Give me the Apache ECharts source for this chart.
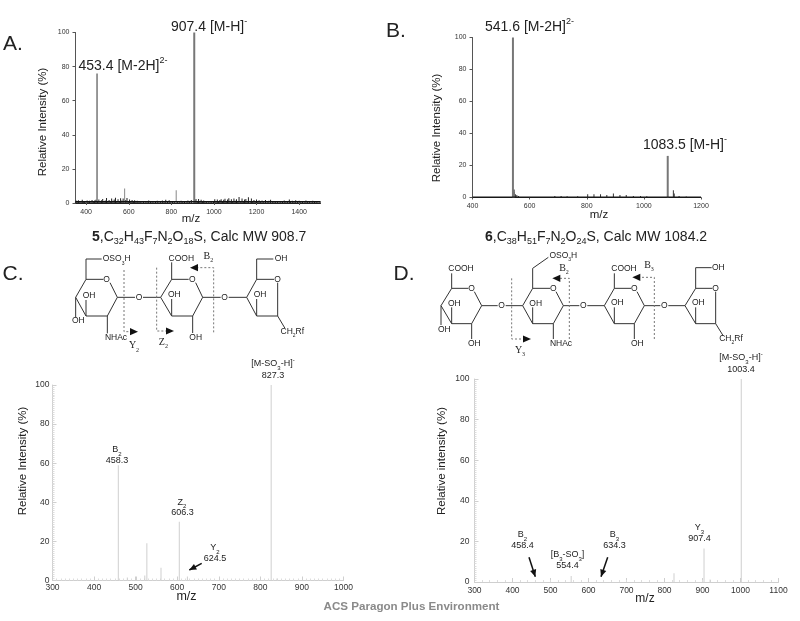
<!DOCTYPE html>
<html>
<head>
<meta charset="utf-8">
<style>html,body{margin:0;padding:0;background:#fff}#chart{width:800px;height:621px}</style>
<script src="https://cdn.jsdelivr.net/npm/echarts@6/dist/echarts.min.js"></script>
</head>
<body>
<div id="chart"></div>
<script>
// panel A
const ticksA = [400, 600, 800, 1000, 1200, 1400];
const strongPeaksA = [[907.4, 100]];
const thinPeaksA = [[453.4, 76]];
const midPeaksA = [[583, 8.5], [825, 7.5]];
const baselineA = [[350, 0.7], [1500, 0.7]];
const noiseA = [[350,0.6],[355,1.4],[360,0.7],[366,1.6],[372,0.5],[378,1.2],[384,1.9],[389,0.6],[395,1.1],[401,0.4],[407,1.5],[412,0.8],[418,1.3],[424,0.5],[430,1.7],[436,0.7],[442,1.4],[448,1.9],[456,1],[462,2],[468,0.9],[474,1.6],[480,2.4],[486,0.8],[492,1.5],[498,3],[504,1.1],[510,1.8],[516,0.9],[522,2.7],[528,1.3],[534,2],[540,3.1],[546,1],[552,2.2],[558,1.2],[564,2.8],[570,1.4],[576,2.6],[588,1.7],[594,3],[600,1.2],[606,2.1],[612,0.9],[618,1.8],[624,1.1],[630,1.6],[636,0.7],[642,1.3],[650,0.6],[656,1.1],[664,0.5],[672,0.9],[680,0.4],[688,1],[696,1.5],[704,0.6],[712,1.2],[720,0.5],[728,0.8],[736,1.3],[744,0.4],[752,1],[760,1.5],[768,0.7],[776,1.9],[784,0.8],[792,1.6],[800,0.9],[808,1.2],[816,0.7],[832,1.1],[840,0.5],[848,1.3],[856,0.6],[864,1],[872,0.5],[880,1.4],[888,0.7],[896,1.7],[912,1.8],[918,2.4],[924,1],[930,2.3],[936,1.1],[942,1.9],[948,0.8],[954,1.5],[960,0.6],[968,1.1],[976,0.5],[984,0.9],[992,0.6],[1000,1.2],[1006,2.2],[1012,1],[1018,2],[1024,0.9],[1030,1.8],[1036,2.2],[1042,1],[1048,1.9],[1054,2.5],[1060,1.1],[1066,2],[1072,2.8],[1078,1],[1084,2.2],[1090,1.2],[1096,2.6],[1102,1.3],[1108,2.2],[1114,1],[1120,3.5],[1128,1.2],[1134,2.7],[1140,1.1],[1146,2],[1152,2.4],[1158,1],[1164,3.4],[1172,1.2],[1178,2.6],[1184,1.1],[1190,1.8],[1196,0.9],[1202,2.1],[1208,1],[1214,1.6],[1220,0.8],[1228,1.5],[1236,0.7],[1244,1.7],[1252,0.8],[1260,1.3],[1268,1.9],[1276,0.7],[1284,1.2],[1292,0.6],[1300,1],[1308,0.5],[1316,1.2],[1324,0.6],[1332,1.5],[1340,0.7],[1348,1],[1356,2],[1362,0.7],[1370,1.3],[1378,0.6],[1386,1.6],[1394,0.8],[1402,1.3],[1410,0.6],[1418,1.1],[1426,0.5],[1434,1.4],[1442,0.7],[1450,1],[1458,0.5],[1466,1.3],[1474,0.6],[1482,1.1],[1490,0.5],[1500,0.9]];

// panel B
const ticksB = [400, 600, 800, 1000, 1200];
const strongPeaksB = [[541.6, 100], [545, 5], [1083.5, 26]];
const thinPeaksB = [[548, 3.5], [552, 2], [557, 1.5], [563, 1], [690, 1], [712, 1], [733, 0.8], [770, 0.8], [805, 2], [827, 2], [850, 2], [872, 1.5], [895, 2.5], [918, 1.5], [940, 1.5], [965, 1], [990, 1], [1012, 0.8], [1105, 4.5], [1108, 2.5], [1125, 1], [1150, 0.7]];
const baselineB = [[400, 0.3], [1200, 0.3]];

// panel C
const ticksC = [300, 400, 500, 600, 700, 800, 900, 1000];
const peaksC = [[458.3, 59], [480, 1.5], [502, 2], [522, 2.5], [527, 19], [561, 6.5], [605, 30], [624.5, 2], [826, 100], [840, 1]];

// panel D
const ticksD = [300, 400, 500, 600, 700, 800, 900, 1000, 1100];
const peaksD = [[554.4, 3], [825, 4.3], [904, 16.5], [920, 1.2], [1002, 100]];

const yTicks = [0, 20, 40, 60, 80, 100];

const INK = '#222';
const FONT = '"Liberation Sans", Arial, sans-serif';
const SERIF = '"Liberation Serif", "Times New Roman", serif';

function richFor(size, family) {
    const small = Math.round(size * 0.62);
    return {
        n: { fontFamily: family, fontSize: size, lineHeight: size + 5, fill: INK },
        b: { fontFamily: family, fontSize: size, lineHeight: size + 5, fill: INK, fontWeight: 'bold' },
        d: { fontFamily: family, fontSize: small, lineHeight: small + 1, fill: INK, verticalAlign: 'bottom' },
        u: { fontFamily: family, fontSize: small, lineHeight: small + 1, fill: INK, verticalAlign: 'top' }
    };
}

function txt(x, y, text, size, align, family) {
    return {
        type: 'text', silent: true,
        style: {
            x: x, y: y, text: text, align: align || 'center', verticalAlign: 'middle',
            rich: richFor(size, family || FONT), fill: INK
        }
    };
}

// axis titles sit off-centre in the original so they are placed by hand
function axisTitle(x, y, text, size, vertical) {
    return {
        type: 'text', silent: true, x: x, y: y, rotation: vertical ? Math.PI / 2 : 0,
        style: { text: text, align: 'center', verticalAlign: 'middle', fontFamily: FONT, fontSize: size, fill: INK }
    };
}

// structures were measured on 3x crops, these turn crop units into page pixels
function line(ox, oy, pts, dashed) {
    return {
        type: 'polyline', silent: true,
        shape: { points: pts.map(p => [ox + p[0] / 3, oy + p[1] / 3]) },
        style: dashed
            ? { stroke: '#777', lineWidth: 1, lineDash: [2, 2], fill: null }
            : { stroke: '#333', lineWidth: 1, fill: null }
    };
}

function head(x, y, dx, dy, size) {
    const len = Math.sqrt(dx * dx + dy * dy);
    const ux = dx / len, uy = dy / len;
    return {
        type: 'polygon', silent: true,
        shape: { points: [[x, y], [x - ux * size - uy * size * 0.45, y - uy * size + ux * size * 0.45], [x - ux * size + uy * size * 0.45, y - uy * size - ux * size * 0.45]] },
        style: { fill: '#111' }
    };
}

function arrow(x1, y1, x2, y2) {
    return [
        { type: 'line', silent: true, shape: { x1: x1, y1: y1, x2: x2, y2: y2 }, style: { stroke: '#111', lineWidth: 1.5 } },
        head(x2, y2, x2 - x1, y2 - y1, 7)
    ];
}

function structureC() {
    const ox = 0, oy = 245, L = (p, d) => line(ox, oy, p, d), T = (x, y, t, f) => txt(ox + x / 3, oy + y / 3, t, f ? 10 : 8.5, 'center', f);
    const H = (x, y, dir) => head(ox + x / 3, oy + y / 3, dir, 0, 8);
    return [
        L([[310, 103], [258, 103], [227, 157], [258, 213], [322, 213], [352, 157], [330, 113]]),
        L([[258, 103], [258, 42], [305, 42]]), L([[258, 213], [258, 165]]), L([[227, 157], [227, 216]]),
        L([[322, 213], [322, 265]]), L([[352, 157], [405, 157]]), L([[429, 157], [482, 157]]),
        L([[566, 103], [515, 103], [482, 157], [515, 213], [578, 213], [608, 157], [587, 113]]),
        L([[515, 103], [515, 52]]), L([[515, 213], [515, 162]]), L([[578, 213], [578, 264]]),
        L([[608, 157], [662, 157]]), L([[686, 157], [740, 157]]),
        L([[822, 103], [770, 103], [740, 157], [770, 213], [833, 213], [833, 113]]),
        L([[770, 103], [770, 42], [820, 42]]), L([[770, 213], [770, 162]]), L([[833, 213], [855, 250]]),
        L([[372, 75], [372, 260], [392, 260]], true), L([[470, 68], [470, 258], [498, 258]], true), L([[641, 262], [641, 68], [592, 68]], true),
        H(414, 260, 1), H(522, 258, 1), H(570, 68, -1),
        T(350, 42, '{n|OSO}{d|3}{n|H}'), T(320, 103, '{n|O}'), T(267, 152, '{n|OH}'), T(235, 228, '{n|OH}'), T(348, 278, '{n|NHAc}'),
        T(417, 158, '{n|O}'), T(544, 40, '{n|COOH}'), T(577, 103, '{n|O}'), T(523, 150, '{n|OH}'), T(587, 277, '{n|OH}'),
        T(674, 158, '{n|O}'), T(843, 40, '{n|OH}'), T(833, 103, '{n|O}'), T(780, 150, '{n|OH}'), T(877, 260, '{n|CH}{d|2}{n|Rf}'),
        T(402, 302, '{n|Y}{d|2}', SERIF), T(490, 292, '{n|Z}{d|2}', SERIF), T(625, 33, '{n|B}{d|2}', SERIF)
    ];
}

function structureD() {
    const ox = 385, oy = 245, L = (p, d) => line(ox, oy, p, d), T = (x, y, t, f) => txt(ox + x / 3, oy + y / 3, t, f ? 10 : 8.5, 'center', f);
    const H = (x, y, dir) => head(ox + x / 3, oy + y / 3, dir, 0, 8);
    return [
        L([[250, 130], [200, 130], [168, 182], [200, 236], [260, 236], [290, 182], [268, 140]]),
        L([[200, 130], [200, 85]]), L([[200, 236], [200, 187]]), L([[168, 182], [168, 240]]), L([[260, 236], [260, 282]]),
        L([[290, 182], [338, 182]]), L([[362, 182], [413, 182]]),
        L([[495, 130], [443, 130], [413, 182], [443, 236], [505, 236], [535, 182], [513, 140]]),
        L([[443, 130], [443, 70], [490, 37]]), L([[443, 236], [443, 187]]), L([[505, 236], [505, 282]]),
        L([[535, 182], [583, 182]]), L([[607, 182], [658, 182]]),
        L([[738, 130], [688, 130], [658, 182], [688, 236], [748, 236], [778, 182], [756, 140]]),
        L([[688, 130], [688, 85]]), L([[688, 236], [688, 187]]), L([[748, 236], [748, 282]]),
        L([[778, 182], [826, 182]]), L([[850, 182], [900, 182]]),
        L([[982, 130], [932, 130], [900, 182], [932, 236], [992, 236], [992, 140]]),
        L([[932, 130], [932, 68], [980, 68]]), L([[932, 236], [932, 187]]), L([[992, 236], [1015, 273]]),
        L([[380, 100], [380, 282], [415, 282]], true), L([[553, 282], [553, 100], [525, 100]], true), L([[808, 282], [808, 97], [765, 97]], true),
        H(438, 282, 1), H(502, 100, -1), H(742, 97, -1),
        T(535, 32, '{n|OSO}{d|3}{n|H}'), T(228, 70, '{n|COOH}'), T(260, 130, '{n|O}'), T(208, 175, '{n|OH}'), T(178, 254, '{n|OH}'), T(268, 296, '{n|OH}'),
        T(350, 182, '{n|O}'), T(505, 130, '{n|O}'), T(452, 175, '{n|OH}'), T(528, 296, '{n|NHAc}'), T(595, 182, '{n|O}'),
        T(717, 70, '{n|COOH}'), T(748, 130, '{n|O}'), T(697, 173, '{n|OH}'), T(757, 296, '{n|OH}'), T(838, 182, '{n|O}'),
        T(1000, 68, '{n|OH}'), T(992, 130, '{n|O}'), T(940, 173, '{n|OH}'), T(1038, 281, '{n|CH}{d|2}{n|Rf}'),
        T(405, 315, '{n|Y}{d|3}', SERIF), T(537, 70, '{n|B}{d|2}', SERIF), T(792, 60, '{n|B}{d|3}', SERIF)
    ];
}

const annotations = [
    txt(13, 44, '{n|A.}', 21), txt(396, 31, '{n|B.}', 21), txt(13, 274, '{n|C.}', 21), txt(404, 274, '{n|D.}', 21),
    txt(171, 27, '{n|907.4 [M-H]}{u|-}', 14, 'left'),
    txt(78.5, 66, '{n|453.4 [M-2H]}{u|2-}', 14, 'left'),
    txt(485, 27, '{n|541.6 [M-2H]}{u|2-}', 14, 'left'),
    txt(643, 145, '{n|1083.5 [M-H]}{u|-}', 14, 'left'),
    txt(92, 237, '{b|5}{n|,C}{d|32}{n|H}{d|43}{n|F}{d|7}{n|N}{d|2}{n|O}{d|18}{n|S, Calc MW 908.7}', 14, 'left'),
    txt(485, 237, '{b|6}{n|,C}{d|38}{n|H}{d|51}{n|F}{d|7}{n|N}{d|2}{n|O}{d|24}{n|S, Calc MW 1084.2}', 14, 'left'),
    txt(273, 364, '{n|[M-SO}{d|3}{n|-H]}{u|-}', 9), txt(273, 375.5, '{n|827.3}', 9),
    txt(117, 450, '{n|B}{d|2}', 9), txt(117, 460.5, '{n|458.3}', 9),
    txt(182, 502.5, '{n|Z}{d|2}', 9), txt(182.5, 513, '{n|606.3}', 9),
    txt(215, 548, '{n|Y}{d|2}', 9), txt(215, 558.5, '{n|624.5}', 9),
    txt(741, 358, '{n|[M-SO}{d|3}{n|-H]}{u|-}', 9), txt(741, 369.5, '{n|1003.4}', 9),
    txt(522.5, 535, '{n|B}{d|2}', 9), txt(522.5, 545.5, '{n|458.4}', 9),
    txt(567.5, 555, '{n|[B}{d|3}{n|-SO}{d|3}{n|]}', 9), txt(567.5, 565.5, '{n|554.4}', 9),
    txt(614.5, 535, '{n|B}{d|3}', 9), txt(614.5, 545.5, '{n|634.3}', 9),
    txt(699.5, 528, '{n|Y}{d|3}', 9), txt(699.5, 539, '{n|907.4}', 9),
    axisTitle(43, 122, 'Relative Intensity (%)', 11.5, true),
    axisTitle(436.5, 128, 'Relative Intensity (%)', 11.5, true),
    axisTitle(23, 461, 'Relative Intensity (%)', 11.5, true),
    axisTitle(442, 461, 'Relative intensity (%)', 11.5, true),
    axisTitle(191, 219, 'm/z', 11.5), axisTitle(599, 215, 'm/z', 11.5),
    axisTitle(186.5, 597, 'm/z', 12.5), axisTitle(645, 599, 'm/z', 12)
];

const arrows = [].concat(
    arrow(201.7, 563.3, 189.3, 570),
    arrow(529, 557.3, 535.3, 576.7),
    arrow(607.7, 557.3, 601, 576.7)
);

const footer = {
    type: 'text', silent: true,
    style: { x: 411.5, y: 607, text: 'ACS Paragon Plus Environment', align: 'center', verticalAlign: 'middle', fontFamily: FONT, fontWeight: 'bold', fontSize: 11.6, fill: '#8a8a8a' }
};

// dark = the two survey spectra on top, light = the two MS/MS spectra below
function xAxis(index, min, max, ticks, labelMargin, dark) {
    const axisColor = dark ? '#555' : '#cfcfcf';
    return {
        type: 'value', gridIndex: index, min: min, max: max,
        axisLine: { onZero: false, lineStyle: { color: dark ? '#222' : axisColor, width: 1 } },
        axisTick: { show: true, inside: !dark, length: dark ? 2 : 4, customValues: ticks, lineStyle: { color: axisColor } },
        minorTick: { show: !dark, splitNumber: 10, length: 2, lineStyle: { color: '#ddd' } },
        axisLabel: { customValues: ticks, margin: labelMargin, fontFamily: FONT, fontSize: dark ? 7 : 8.5, color: '#333', formatter: v => String(v) },
        splitLine: { show: false }, minorSplitLine: { show: false }
    };
}

function yAxis(index, labelMargin, dark) {
    const axisColor = dark ? '#555' : '#cfcfcf';
    return {
        type: 'value', gridIndex: index, min: 0, max: 100,
        axisLine: { show: true, lineStyle: { color: axisColor, width: 1 } },
        axisTick: { show: true, inside: !dark, length: dark ? 3 : 4, customValues: yTicks, lineStyle: { color: axisColor } },
        minorTick: { show: !dark, splitNumber: 20, length: 2, lineStyle: { color: '#ddd' } },
        axisLabel: { customValues: yTicks, margin: labelMargin, fontFamily: FONT, fontSize: dark ? 7 : 8.5, color: '#333' },
        splitLine: { show: false }, minorSplitLine: { show: false }
    };
}

function sticks(index, data, width, color) {
    return { type: 'bar', xAxisIndex: index, yAxisIndex: index, data: data, barWidth: width, barGap: '-100%', itemStyle: { color: color }, silent: true, animation: false };
}

function trace(index, data, color, width) {
    return { type: 'line', xAxisIndex: index, yAxisIndex: index, data: data, symbol: 'none', lineStyle: { color: color, width: width || 1 }, silent: true, animation: false };
}

const chart = echarts.init(document.getElementById('chart'), null, { renderer: 'canvas' });
chart.setOption({
    backgroundColor: '#fff',
    animation: false,
    grid: [
        { left: 75.5, top: 32.5, width: 245, height: 170.5 },
        { left: 472.5, top: 37.5, width: 228.5, height: 160 },
        { left: 52.5, top: 385, width: 291, height: 195.5 },
        { left: 474.5, top: 379, width: 304, height: 203 }
    ],
    xAxis: [
        xAxis(0, 350, 1500, ticksA, 6, true),
        xAxis(1, 400, 1200, ticksB, 5, true),
        xAxis(2, 300, 1000, ticksC, 3, false),
        xAxis(3, 300, 1100, ticksD, 4, false)
    ],
    yAxis: [
        yAxis(0, 6, true),
        yAxis(1, 6, true),
        yAxis(2, 3, false),
        yAxis(3, 5, false)
    ],
    series: [
        trace(0, baselineA, '#111', 1.5),
        sticks(0, noiseA, 1, '#222'),
        sticks(0, thinPeaksA, 1, '#333'),
        sticks(0, midPeaksA, 1, '#888'),
        sticks(0, strongPeaksA, 2, '#777'),
        trace(1, baselineB, '#111'),
        sticks(1, thinPeaksB, 1, '#333'),
        sticks(1, strongPeaksB, 2, '#777'),
        sticks(2, peaksC, 1, '#cfcfcf'),
        sticks(3, peaksD, 1, '#cfcfcf')
    ],
    graphic: { elements: [].concat(annotations, arrows, structureC(), structureD(), [footer]) }
});
</script>
</body>
</html>
